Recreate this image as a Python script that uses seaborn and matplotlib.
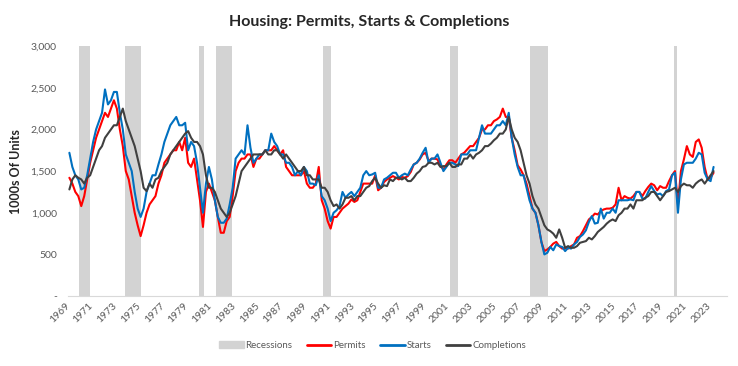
import numpy as np
import pandas as pd
import matplotlib
matplotlib.use("Agg")
import matplotlib.pyplot as plt
import seaborn as sns
from matplotlib.patches import Patch
from matplotlib.lines import Line2D

# Quartalswerte (Tsd. Einheiten, SAAR), 1969Q1 .. 2023Q2
permits = [
    1420, 1350, 1250, 1200, 1080, 1200, 1400, 1600, 1750, 1900, 2000, 2100,
    2200, 2150, 2250, 2350, 2250, 2000, 1800, 1500, 1400, 1200, 1000, 850,
    720, 850, 1000, 1100, 1150, 1200, 1350, 1450, 1600, 1650, 1700, 1750,
    1750, 1850, 1750, 1900, 1600, 1550, 1650, 1400, 1150, 830, 1250, 1350,
    1250, 1150, 950, 760, 760, 900, 950, 1200, 1500, 1600, 1650, 1650,
    1700, 1700, 1550, 1650, 1650, 1700, 1750, 1750, 1750, 1800, 1750, 1700,
    1750, 1550, 1500, 1450, 1450, 1450, 1450, 1500, 1350, 1300, 1300, 1350,
    1550, 1150, 1050, 900, 810, 950, 950, 1000, 1050, 1080, 1110, 1160,
    1130, 1150, 1250, 1350, 1350, 1350, 1350, 1450, 1270, 1300, 1370, 1400,
    1420, 1440, 1420, 1400, 1430, 1420, 1440, 1490, 1580, 1600, 1640, 1700,
    1720, 1620, 1650, 1650, 1640, 1560, 1520, 1580, 1630, 1630, 1600, 1650,
    1700, 1720, 1760, 1800, 1800, 1850, 1900, 2000, 2000, 2050, 2050, 2100,
    2120, 2150, 2250, 2150, 2150, 1900, 1750, 1570, 1520, 1450, 1350, 1200,
    1050, 1000, 850, 650, 540, 560, 590, 630, 650, 600, 570, 580,
    570, 600, 620, 700, 720, 780, 850, 920, 950, 990, 980, 1020,
    1040, 1050, 1050, 1060, 1100, 1300, 1150, 1200, 1180, 1170, 1200, 1250,
    1250, 1200, 1260, 1310, 1350, 1330, 1270, 1320, 1300, 1300, 1380, 1450,
    1500, 1100, 1500, 1640, 1800, 1700, 1670, 1850, 1880, 1780, 1550, 1400,
    1420, 1480,
]
starts = [
    1720, 1550, 1450, 1400, 1280, 1300, 1450, 1650, 1850, 2000, 2100, 2200,
    2480, 2300, 2350, 2450, 2450, 2200, 2000, 1700, 1600, 1500, 1250, 1050,
    950, 1050, 1250, 1350, 1450, 1450, 1580, 1700, 1850, 1950, 2050, 2100,
    2150, 2050, 2050, 2080, 1750, 1850, 1800, 1600, 1300, 1000, 1350, 1550,
    1400, 1150, 950, 880, 880, 930, 1100, 1300, 1650, 1700, 1750, 1700,
    2050, 1780, 1600, 1650, 1700, 1700, 1750, 1750, 1950, 1850, 1800, 1700,
    1700, 1600, 1600, 1550, 1450, 1500, 1450, 1550, 1500, 1350, 1350, 1330,
    1450, 1200, 1150, 1050, 900, 1000, 1030, 1080, 1250, 1180, 1220, 1250,
    1200, 1250, 1300, 1450, 1500, 1450, 1460, 1480, 1300, 1300, 1400, 1420,
    1450, 1480, 1480, 1420, 1450, 1470, 1450, 1520, 1580, 1600, 1650, 1720,
    1780, 1600, 1650, 1650, 1700, 1600, 1500, 1550, 1600, 1600, 1580, 1560,
    1700, 1700, 1700, 1750, 1750, 1750, 1900, 2050, 1950, 1950, 1950, 2000,
    2050, 2050, 2100, 2050, 2200, 1900, 1700, 1550, 1450, 1450, 1300, 1150,
    1050, 1000, 850, 650, 500, 520, 590, 550, 620, 600, 590, 540,
    580, 570, 620, 650, 710, 740, 790, 890, 960, 870, 880, 1050,
    930, 1000, 1000, 1050, 1000, 1150, 1150, 1150, 1150, 1160, 1150, 1250,
    1250, 1170, 1170, 1250, 1320, 1260, 1220, 1230, 1200, 1260, 1280, 1450,
    1480, 1000, 1400, 1580, 1600, 1600, 1600, 1650, 1720, 1700, 1480, 1400,
    1380, 1550,
]
completions = [
    1280, 1400, 1450, 1420, 1400, 1350, 1420, 1450, 1550, 1650, 1750, 1800,
    1900, 1950, 2000, 2050, 2050, 2150, 2250, 2100, 2000, 1900, 1800, 1650,
    1500, 1300, 1260, 1350, 1300, 1400, 1420, 1500, 1550, 1600, 1700, 1750,
    1800, 1850, 1900, 1950, 1980, 1900, 1850, 1850, 1800, 1700, 1450, 1300,
    1300, 1250, 1150, 1050, 1000, 950, 1000, 1100, 1200, 1350, 1500, 1550,
    1600, 1650, 1700, 1700, 1700, 1700, 1750, 1700, 1700, 1750, 1750, 1700,
    1650, 1700, 1650, 1600, 1550, 1500, 1500, 1550, 1450, 1450, 1400, 1400,
    1400, 1300, 1300, 1250, 1150, 1080, 1100, 1050, 1100, 1180, 1180, 1200,
    1150, 1200, 1200, 1250, 1300, 1320, 1380, 1420, 1350, 1300, 1330, 1320,
    1400, 1380, 1420, 1420, 1400, 1420, 1380, 1380, 1420, 1470, 1500, 1550,
    1560, 1600, 1600, 1580, 1600, 1550, 1560, 1560, 1600, 1550, 1550, 1580,
    1580, 1650, 1650, 1700, 1650, 1700, 1720, 1750, 1800, 1800, 1830, 1870,
    1900, 1950, 1950, 2000, 2150, 2000, 1900, 1850, 1750, 1600, 1450, 1350,
    1200, 1100, 1050, 950, 850, 800, 780, 750, 700, 800, 700, 580,
    600, 580, 580, 600, 640, 650, 660, 700, 680, 720, 770, 800,
    830, 870, 900, 920, 900, 970, 1000, 1050, 1050, 1100, 1050, 1150,
    1150, 1150, 1180, 1200, 1250, 1250, 1200, 1150, 1200, 1250, 1260, 1280,
    1300, 1250, 1320, 1350, 1330, 1330, 1300, 1350, 1380, 1400, 1350, 1400,
    1450, 1500,
]

# Rezessionen (Beginn, Ende) als Dezimaljahre
rec_start = [1969.92, 1973.83, 1980.0, 1981.5, 1990.5, 2001.17, 2007.92, 2020.08]
rec_end = [1970.83, 1975.17, 1980.5, 1982.83, 1991.17, 2001.83, 2009.42, 2020.33]

years = list(range(1969, 2024, 2))

n = len(starts)
t = 1969 + np.arange(n) / 4 + 0.125
df = pd.DataFrame({"t": t, "Permits": permits, "Starts": starts, "Completions": completions})

sns.set_style("white")
plt.rcParams["font.family"] = ["Lato", "DejaVu Sans"]

fig = plt.figure(figsize=(7.38, 3.66), dpi=100)
ax = fig.add_axes([0.092, 0.191, 0.893, 0.683])

for a, b in zip(rec_start, rec_end):
    ax.axvspan(a, b, color="#d3d3d3", lw=0, zorder=0)

sns.lineplot(data=df, x="t", y="Permits", color="#ff0000", lw=1.5, ax=ax)
sns.lineplot(data=df, x="t", y="Starts", color="#0070c0", lw=1.5, ax=ax)
sns.lineplot(data=df, x="t", y="Completions", color="#404040", lw=1.5, ax=ax)

ax.set_xlim(1969, 2024.5)
ax.set_ylim(0, 3000)
ax.set_xticks(years)
ax.set_xticklabels([str(y) for y in years], rotation=45, ha="right", va="center",
                   rotation_mode="anchor", fontsize=7.5, color="#595959")
ax.set_yticks(range(0, 3001, 500))
ax.set_yticklabels(["-"] + [f"{v:,}" for v in range(500, 3001, 500)], fontsize=7.5, color="#595959")
ax.set_xlabel("")
ax.set_ylabel("1000s Of Units", fontsize=9, fontweight="bold")
ax.yaxis.set_label_coords(-0.07, 0.5)
ax.tick_params(axis="x", length=3, color="#d9d9d9", pad=3)
ax.tick_params(axis="y", length=0, pad=8)
for s in ["top", "right", "left"]:
    ax.spines[s].set_visible(False)
ax.spines["bottom"].set_color("#d9d9d9")

fig.suptitle("Housing: Permits, Starts & Completions", fontsize=11.5, fontweight="bold", y=0.96)

handles = [
    Patch(color="#d3d3d3", label="Recessions"),
    Line2D([], [], color="#ff0000", lw=2, label="Permits"),
    Line2D([], [], color="#0070c0", lw=2, label="Starts"),
    Line2D([], [], color="#404040", lw=2, label="Completions"),
]
fig.legend(handles=handles, loc="center", bbox_to_anchor=(0.505, 0.056), ncol=4, frameon=False,
           fontsize=7, handlelength=2.5, handleheight=0.6, handletextpad=0.2, columnspacing=1.5,
           labelcolor="#595959")

fig.savefig("out.png", dpi=100)
